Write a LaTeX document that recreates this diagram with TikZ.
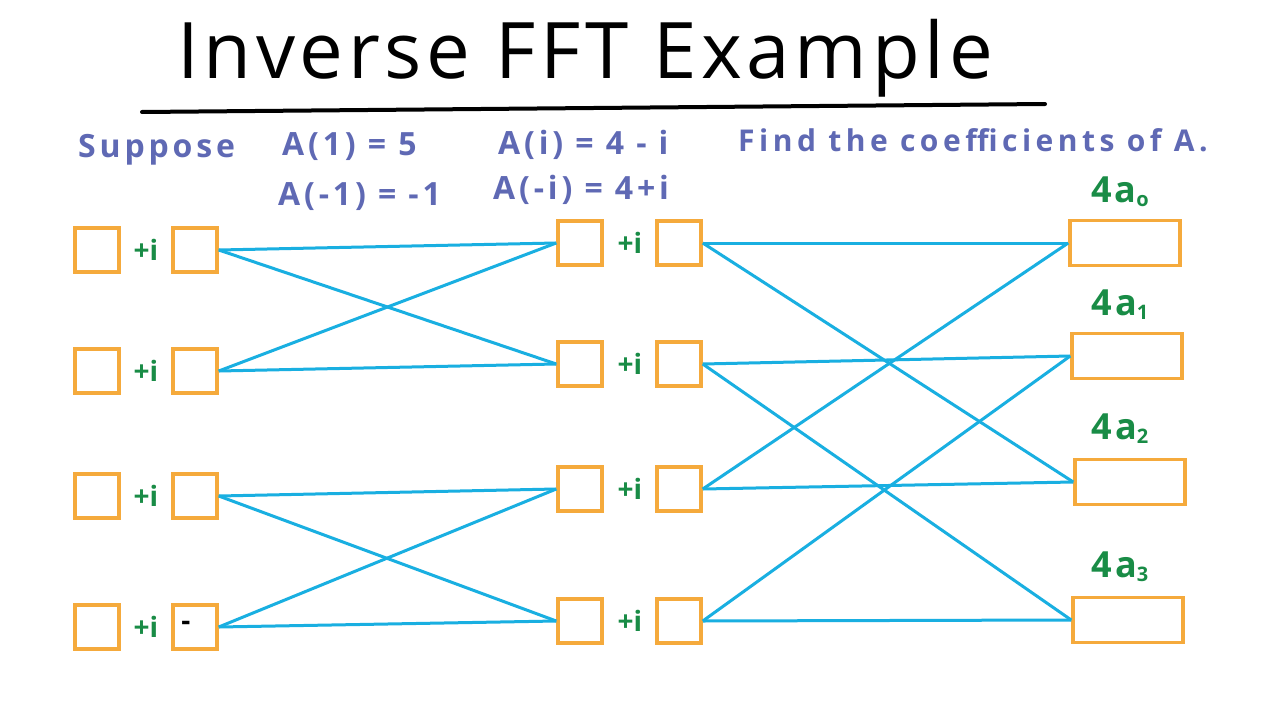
\documentclass[tikz,border=0pt]{standalone}
\usepackage{fontspec}
\setmainfont{Open Sans}
\definecolor{tblue}{RGB}{95,105,180}
\definecolor{tgreen}{RGB}{25,140,70}
\definecolor{torange}{RGB}{245,170,60}
\definecolor{tcyan}{RGB}{25,175,225}
\begin{document}
\begin{tikzpicture}[x=1pt,y=-1pt,
 bx/.style={draw=torange,line width=3.5pt,minimum width=44pt,minimum height=44pt,inner sep=0pt},
 ob/.style={draw=torange,line width=3.5pt,minimum width=110pt,minimum height=45pt,inner sep=0pt},
 pl/.style={text=tgreen,font=\fontsize{28}{28}\selectfont\bfseries},
 ln/.style={draw=tcyan,line width=3pt},
 bt/.style={text=tblue,font=\fontsize{32}{32}\selectfont\bfseries\addfontfeatures{LetterSpace=12},anchor=west,inner sep=0pt},
 al/.style={text=tgreen,font=\fontsize{36}{36}\selectfont\bfseries\addfontfeatures{LetterSpace=8}}]
\useasboundingbox (0,0) rectangle (1280,720);
\fill[white] (0,0) rectangle (1280,720);
\node[font=\fontsize{78}{78}\selectfont\addfontfeatures{LetterSpace=6}] (title) at (585,58) {Inverse FFT Example};
\draw[line width=4pt,line cap=round] (142,112) -- (1045,104);
\node[bt] (t1) at (78,150) {Suppose};
\node[bt] (t2) at (282,147) {A(1) = 5};
\node[bt] (t3) at (278,197) {A(-1) = -1};
\node[bt] (t4) at (498,145) {A(i) = 4 - i};
\node[bt] (t5) at (493,190) {A(-i) = 4+i};
\node[bt,font=\fontsize{30}{30}\selectfont\bfseries\addfontfeatures{LetterSpace=15}] (t6) at (738,140) {Find the coefficients of A.};
% column 1
\foreach \n/\y in {1/250,2/371,3/496,4/627}{
 \node[bx] (a\n) at (97,\y) {};
 \node[pl] (p\n) at (146,\y) {+i};
 \node[bx] (b\n) at (195,\y) {};
}
\node[font=\bfseries\fontsize{28}{28}\selectfont] (m) at (186,626) {-};
% column 2
\foreach \n/\y in {1/243,2/364,3/489,4/621}{
 \node[bx] (c\n) at (580,\y) {};
 \node[pl] (q\n) at (630,\y) {+i};
 \node[bx] (d\n) at (679,\y) {};
}
% outputs
\node[ob] (o0) at (1125,243) {};
\node[ob] (o1) at (1127,356) {};
\node[ob] (o2) at (1130,482) {};
\node[ob] (o3) at (1128,620) {};
\node[al] (l0) at (1120,192) {4a\raisebox{-4pt}{\fontsize{20}{20}\selectfont o}};
\node[al] (l1) at (1120,305) {4a\raisebox{-4pt}{\fontsize{20}{20}\selectfont 1}};
\node[al] (l2) at (1120,429) {4a\raisebox{-4pt}{\fontsize{20}{20}\selectfont 2}};
\node[al] (l3) at (1120,567) {4a\raisebox{-4pt}{\fontsize{20}{20}\selectfont 3}};
% butterflies stage 1
\draw[ln] (b1.east) -- (c1.west); \draw[ln] (b1.east) -- (c2.west);
\draw[ln] (b2.east) -- (c1.west); \draw[ln] (b2.east) -- (c2.west);
\draw[ln] (b3.east) -- (c3.west); \draw[ln] (b3.east) -- (c4.west);
\draw[ln] (b4.east) -- (c3.west); \draw[ln] (b4.east) -- (c4.west);
% stage 2
\draw[ln] (d1.east) -- (o0.west); \draw[ln] (d1.east) -- (o2.west);
\draw[ln] (d2.east) -- (o1.west); \draw[ln] (d2.east) -- (o3.west);
\draw[ln] (d3.east) -- (o0.west); \draw[ln] (d3.east) -- (o2.west);
\draw[ln] (d4.east) -- (o1.west); \draw[ln] (d4.east) -- (o3.west);
\end{tikzpicture}
\end{document}
